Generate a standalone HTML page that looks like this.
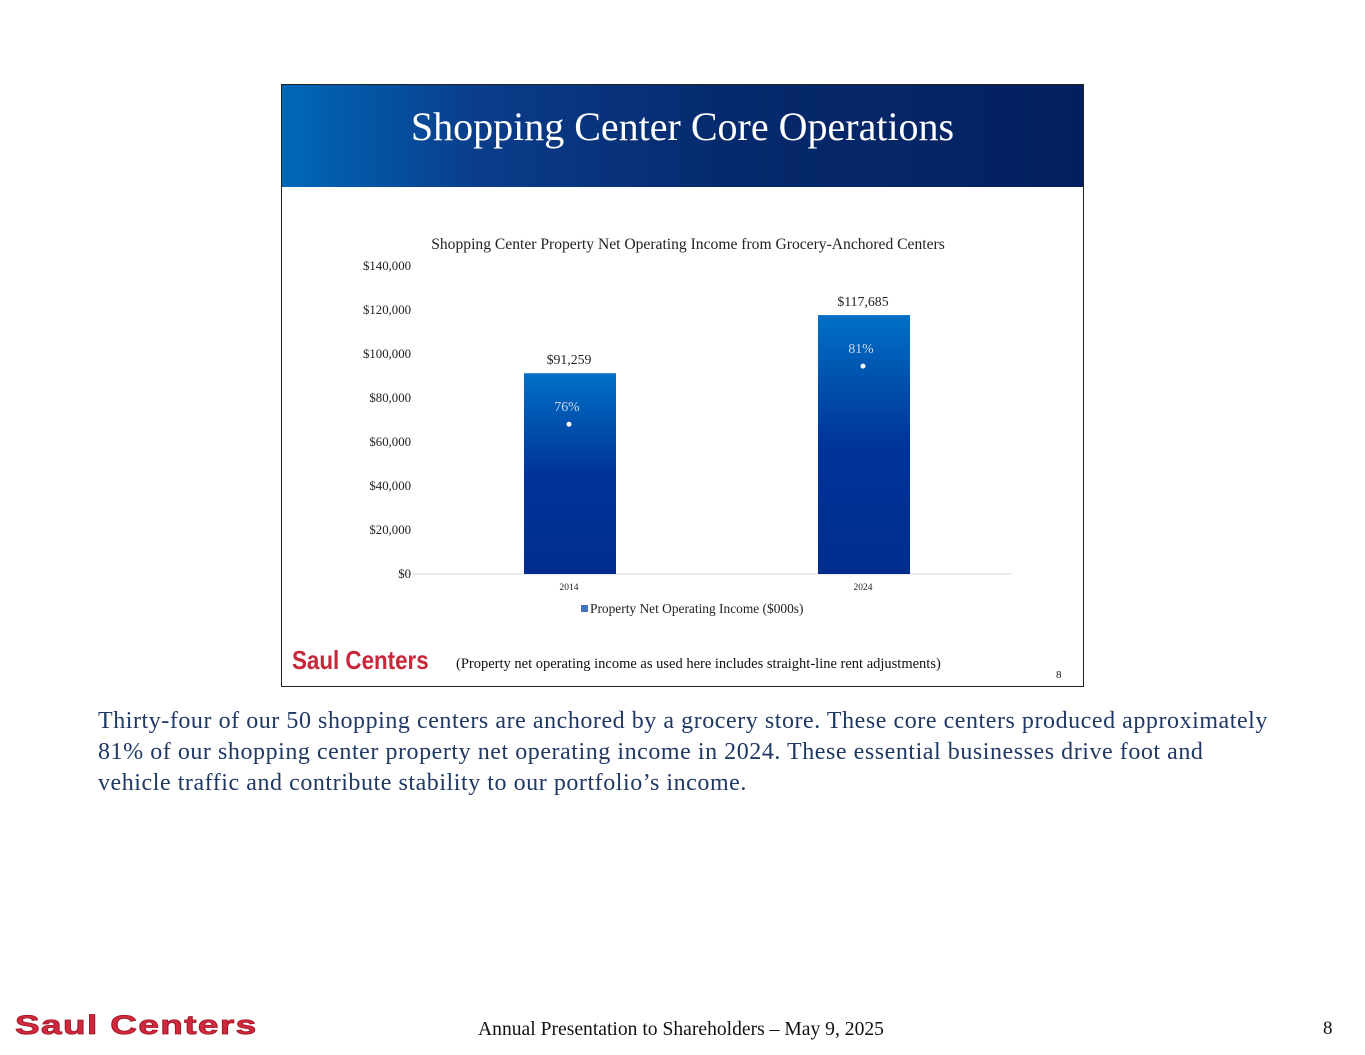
<!DOCTYPE html>
<html><head><meta charset="utf-8"><style>
body{margin:0;width:1365px;height:1055px;background:#fff;position:relative;font-family:"Liberation Serif",serif;overflow:hidden}
.abs{position:absolute}
</style></head><body>
<div class="abs" style="left:281px;top:84px;width:801px;height:601px;border:1.5px solid #222;background:#fff"></div>
<div class="abs" style="left:282px;top:85px;width:801px;height:102px;background:linear-gradient(90deg,#0068b8 0%,#0a3c8a 25%,#062a6e 55%,#03205e 100%)"></div>
<div class="abs" style="left:282px;top:103px;width:801px;text-align:center;color:#fff;font-size:40px">Shopping Center Core Operations</div>
<svg class="abs" style="left:0;top:0" width="1365" height="1055" id="chart"></svg>
<div class="abs" style="left:292px;top:645px;font-family:'Liberation Sans',sans-serif;font-weight:bold;font-size:26px;color:#c8273a;transform:scaleX(0.86);transform-origin:left">Saul Centers</div>
<div class="abs" style="left:456px;top:656px;font-size:14.5px;color:#111">(Property net operating income as used here includes straight-line rent adjustments)</div>
<div class="abs" style="left:1056px;top:669px;font-size:11px;color:#111">8</div>
<div class="abs" style="left:98px;top:706px;width:1200px;font-size:24px;letter-spacing:0.55px;line-height:31px;color:#1f3864;white-space:nowrap">Thirty-four of our 50 shopping centers are anchored by a grocery store. These core centers produced approximately<br>81% of our shopping center property net operating income in 2024. These essential businesses drive foot and<br>vehicle traffic and contribute stability to our portfolio’s income.</div>
<div class="abs" style="left:15px;top:1010px;font-family:'Liberation Sans',sans-serif;font-weight:900;font-size:27px;color:#d0283c;letter-spacing:1px;-webkit-text-stroke:0.8px #a01828;transform:scaleX(1.37);transform-origin:left">Saul Centers</div>
<div class="abs" style="left:478px;top:1019px;font-size:19.6px;color:#111">Annual Presentation to Shareholders – May 9, 2025</div>
<div class="abs" style="left:1323px;top:1018px;font-size:19px;color:#111">8</div>
<script>
const categories=["2014","2024"];
const values=[91259,117685];
const valueLabels=["$91,259","$117,685"];
const shares=["76%","81%"];
const ticks=[0,20000,40000,60000,80000,100000,120000,140000];
const tickLabels=["$0","$20,000","$40,000","$60,000","$80,000","$100,000","$120,000","$140,000"];
const svg=document.getElementById('chart');const NS='http://www.w3.org/2000/svg';
const y0=574,y1=266,vmax=140000,left=397,right=1012;
const y=v=>y0-(v/vmax)*(y0-y1);
const x=i=>570+i*294;
function mk(t,a,txt){const e=document.createElementNS(NS,t);for(const k in a)e.setAttribute(k,a[k]);if(txt!==undefined)e.textContent=txt;svg.appendChild(e);return e;}
const defs=mk('defs',{});defs.innerHTML='<linearGradient id="bg" x1="0" y1="0" x2="0" y2="1"><stop offset="0" stop-color="#0070c4"/><stop offset="0.5" stop-color="#00349a"/><stop offset="1" stop-color="#002c8e"/></linearGradient>';
const g=mk('line',{x1:left,x2:right,y1:y0,y2:y0,stroke:'#d9d9d9','stroke-width':1});


let e=mk('text',{x:688,y:249,'text-anchor':'middle','font-size':15.6,fill:'#222','font-family':'Liberation Serif'},'Shopping Center Property Net Operating Income from Grocery-Anchored Centers');


ticks.forEach((t,i)=>{const l=mk('text',{x:411,y:y(t)+4,'text-anchor':'end','font-size':12.8,fill:'#222','font-family':'Liberation Serif'},tickLabels[i]);

});
values.forEach((v,i)=>{const cx=x(i),top=y(v);
const b=mk('rect',{x:cx-46,y:top,width:92,height:y0-top,fill:'url(#bg)'});


const vl=mk('text',{x:cx-1,y:top-9,'text-anchor':'middle','font-size':13.8,fill:'#222','font-family':'Liberation Serif'},valueLabels[i]);


const sl=mk('text',{x:cx-3,y:top+38,'text-anchor':'middle','font-size':13.8,fill:'#cfd8ee','font-family':'Liberation Serif'},shares[i]);


const d=mk('circle',{cx:cx-1,cy:top+51,r:2.5,fill:'#fff'});


const xl=mk('text',{x:cx-1,y:590,'text-anchor':'middle','font-size':9.5,fill:'#222','font-family':'Liberation Serif'},categories[i]);

});
const ls=mk('rect',{x:581,y:605,width:7,height:7,fill:'#4472c4'});


const lt=mk('text',{x:590,y:613,'font-size':13.4,fill:'#222','font-family':'Liberation Serif'},'Property Net Operating Income ($000s)');


</script>
</body></html>
